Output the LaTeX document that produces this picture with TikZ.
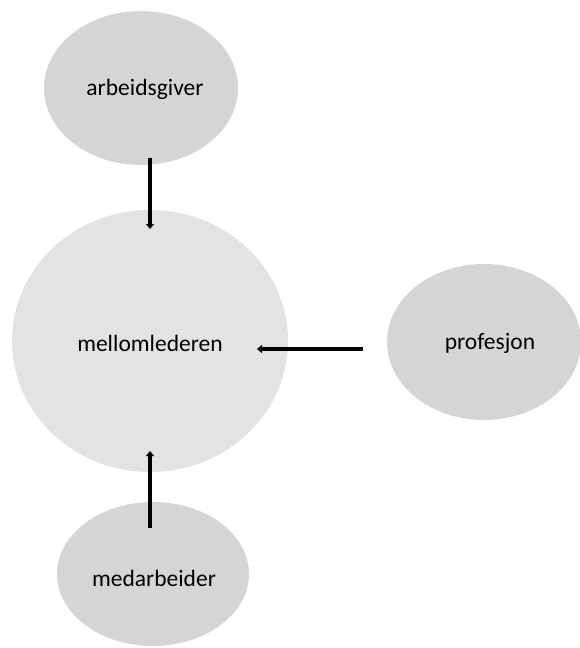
\documentclass[tikz,border=0pt]{standalone}
\usepackage{fontspec}
\setmainfont{Carlito}
\usetikzlibrary{shapes.geometric,arrows.meta}
\definecolor{ellgray}{HTML}{D6D5D6}
\definecolor{midgray}{HTML}{E3E3E3}
\begin{document}
\begin{tikzpicture}[x=1pt,y=-1pt,
  lbl/.style={font=\fontsize{23.5}{28}\selectfont},
  conn/.style={line width=4pt,-{Triangle[length=5pt,width=8pt]}}]
\useasboundingbox (0,0) rectangle (579,648);
\fill[ellgray] (141,88) ellipse [x radius=97,y radius=77];
\node[lbl] (arb) at (145,89) {arbeidsgiver};
\fill[midgray] (150,341) ellipse [x radius=138,y radius=131];
\node[lbl] (mel) at (150,343) {mellomlederen};
\fill[ellgray] (484,342) ellipse [x radius=97,y radius=78];
\node[lbl] (pro) at (490,343) {profesjon};
\fill[ellgray] (153,574) ellipse [x radius=96,y radius=72];
\node[lbl] (med) at (154,578) {medarbeider};
\coordinate (a1) at (150,158);
\coordinate (a2) at (150,229);
\coordinate (p1) at (363,349);
\coordinate (p2) at (257,349);
\coordinate (m1) at (150,528);
\coordinate (m2) at (150,451);
\draw[conn] (a1) -- (a2);
\draw[conn] (p1) -- (p2);
\draw[conn] (m1) -- (m2);
\end{tikzpicture}
\end{document}
